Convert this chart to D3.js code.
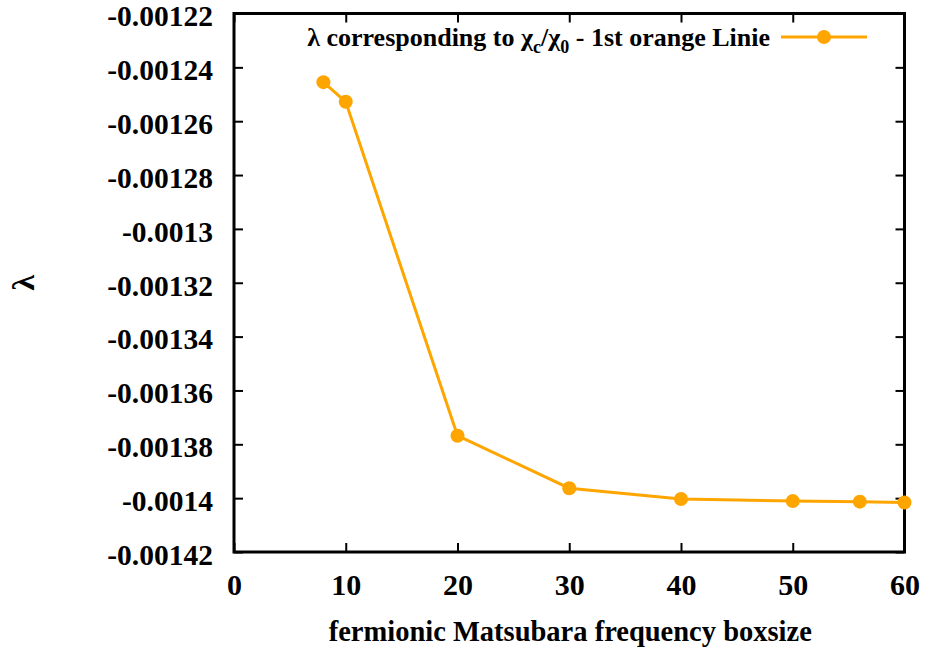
<!DOCTYPE html>
<html>
<head>
<meta charset="utf-8">
<script src="https://cdn.jsdelivr.net/npm/d3@7/dist/d3.min.js"></script>
<style>
  html, body { margin: 0; padding: 0; background: #fff; }
  svg text { font-family: "Liberation Serif", "Times New Roman", serif; font-weight: bold; fill: #000; }
</style>
</head>
<body>
<svg id="chart" width="928" height="653"></svg>
<script>
// Eigenvalue lambda versus fermionic Matsubara frequency box size
const boxSizes = [8, 10, 20, 30, 40, 50, 56, 60];
const lambdaValues = [-0.0012455, -0.0012528, -0.0013768, -0.0013963, -0.0014003, -0.0014011, -0.0014013, -0.0014016];

const xTickValues = [0, 10, 20, 30, 40, 50, 60];
const yTickValues = [-0.00122, -0.00124, -0.00126, -0.00128, -0.0013, -0.00132, -0.00134, -0.00136, -0.00138, -0.0014, -0.00142];
const yTickLabels = ["-0.00122", "-0.00124", "-0.00126", "-0.00128", "-0.0013", "-0.00132", "-0.00134", "-0.00136", "-0.00138", "-0.0014", "-0.00142"];

const seriesColor = "#FFA500";

const svg = d3.select("#chart");
const frame = { left: 234, right: 904.5, top: 13.5, bottom: 552 };

const x = d3.scaleLinear().domain([0, 60]).range([frame.left, frame.right]);
const y = d3.scaleLinear().domain([-0.00142, -0.00122]).range([frame.bottom, frame.top]);

const tickLen = 9;
const labelMap = new Map(yTickValues.map((v, i) => [v, yTickLabels[i]]));

// Bottom axis: inward ticks, labels below
const xAxisBottom = d3.axisBottom(x).tickValues(xTickValues).tickSize(-tickLen).tickPadding(22).tickFormat(d3.format("d"));
const gxb = svg.append("g").attr("transform", `translate(0,${frame.bottom})`).call(xAxisBottom);
// Top axis: mirrored ticks only
const gxt = svg.append("g").attr("transform", `translate(0,${frame.top})`)
  .call(d3.axisTop(x).tickValues(xTickValues).tickSize(-tickLen).tickFormat(""));
// Left axis: inward ticks, labels to the left
const yAxisLeft = d3.axisLeft(y).tickValues(yTickValues).tickSize(-tickLen).tickPadding(21).tickFormat(d => labelMap.get(d));
const gyl = svg.append("g").attr("transform", `translate(${frame.left},0)`).call(yAxisLeft);
// Right axis: mirrored ticks only
const gyr = svg.append("g").attr("transform", `translate(${frame.right},0)`)
  .call(d3.axisRight(y).tickValues(yTickValues).tickSize(-tickLen).tickFormat(""));

[gxb, gxt, gyl, gyr].forEach(g => {
  g.select(".domain").remove();
  g.selectAll(".tick line").attr("stroke", "#000").attr("stroke-width", 2);
  g.selectAll(".tick text").style("font-size", "30px").attr("fill", "#000");
});
gxb.selectAll(".tick text").attr("dy", "0.71em");
gyl.selectAll(".tick text").style("font-size", "29.5px").attr("dy", "0.42em");

// Plot border
svg.append("rect")
  .attr("x", frame.left).attr("y", frame.top)
  .attr("width", frame.right - frame.left).attr("height", frame.bottom - frame.top)
  .attr("fill", "none").attr("stroke", "#000").attr("stroke-width", 3);

// Series line and points
const line = d3.line().x((d, i) => x(boxSizes[i])).y(d => y(d));
svg.append("path")
  .datum(lambdaValues)
  .attr("d", line)
  .attr("fill", "none")
  .attr("stroke", seriesColor)
  .attr("stroke-width", 3);

svg.append("g").selectAll("circle")
  .data(lambdaValues)
  .join("circle")
  .attr("cx", (d, i) => x(boxSizes[i]))
  .attr("cy", d => y(d))
  .attr("r", 7)
  .attr("fill", seriesColor);

// Legend
const legendY = 37;
const legendText = svg.append("text")
  .attr("x", 770).attr("y", legendY + 9)
  .attr("text-anchor", "end")
  .style("font-size", "26px");
legendText.append("tspan").text("λ corresponding to χ");
legendText.append("tspan").text("c").attr("dy", 7).style("font-size", "18px");
legendText.append("tspan").text("/χ").attr("dy", -7);
legendText.append("tspan").text("0").attr("dy", 7).style("font-size", "18px");
legendText.append("tspan").text(" - 1st orange Linie").attr("dy", -7);

svg.append("line")
  .attr("x1", 781).attr("x2", 867).attr("y1", legendY).attr("y2", legendY)
  .attr("stroke", seriesColor).attr("stroke-width", 3);
svg.append("circle").attr("cx", 824).attr("cy", legendY).attr("r", 7).attr("fill", seriesColor);

// Axis titles
svg.append("text")
  .attr("x", (frame.left + frame.right) / 2 + 1).attr("y", 641)
  .attr("text-anchor", "middle")
  .style("font-size", "28.5px")
  .text("fermionic Matsubara frequency boxsize");

svg.append("text")
  .attr("transform", `translate(34,${(frame.top + frame.bottom) / 2}) rotate(-90)`)
  .attr("text-anchor", "middle")
  .style("font-size", "32px")
  .text("λ");
</script>
</body>
</html>
